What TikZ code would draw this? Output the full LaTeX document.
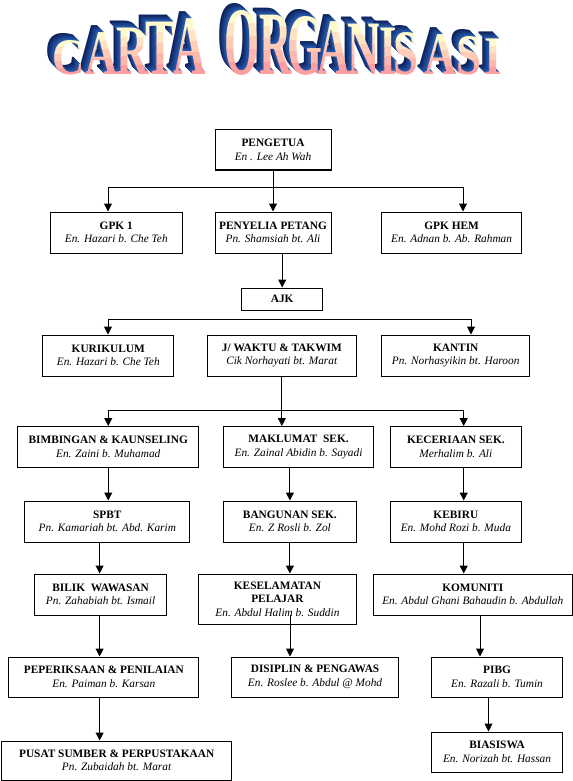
\documentclass[tikz,border=0pt]{standalone}
\usepackage{fontspec}
\setmainfont{Liberation Serif}
\usetikzlibrary{arrows.meta}
\newcommand{\pxu}{0.75pt}
\definecolor{wordnavy}{RGB}{12,32,92}
\definecolor{wordblue}{RGB}{40,92,175}
\definecolor{wordcream}{RGB}{255,250,205}
\definecolor{wordpink}{RGB}{255,160,160}
\tikzset{
  unit/.style 2 args={draw, line width=0.75pt, align=center, inner sep=0pt,
    minimum width=#1*\pxu, minimum height=#2*\pxu, font=\fontsize{8.5}{10.2}\selectfont},
  link/.style={line width=0.75pt, -{Triangle[width=6pt,length=6pt]}},
  twolink/.style={line width=0.75pt, {Triangle[width=6pt,length=6pt]}-{Triangle[width=6pt,length=6pt]}},
  letter/.style={anchor=base, inner sep=0pt, transform shape, font=\fontsize{40}{40}\selectfont\bfseries},
}

\begin{document}
\begin{tikzpicture}[x=0.75pt, y=-0.75pt]
    \useasboundingbox (0,0) rectangle (573,781);

    % title, blue extrusion first
    \foreach \ch/\cx/\ct in {C/69/35, A/102/27, R/133/22, T/160/16, A/190/13, O/242/5, R/276/9, G/305/11, A/334/16, N/364/18, I/388/22, S/406/27, A/441/29, S/469/31, I/493/33}{
      \pgfmathsetmacro\ys{(75-\ct-6)/35.3}
      \foreach \d in {7,...,1}{
        \pgfmathtruncatemacro\shade{(7-\d)*16}
        \begin{scope}[shift={(\cx-\d,75-\d)}, xscale=0.84, yscale=\ys]
          \node[letter, text=wordblue!\shade!wordnavy] at (0,0) {\ch};
        \end{scope}
      }
    }
    % title faces, cream to pink
    \foreach \ch/\cx/\ct in {C/69/35, A/102/27, R/133/22, T/160/16, A/190/13, O/242/5, R/276/9, G/305/11, A/334/16, N/364/18, I/388/22, S/406/27, A/441/29, S/469/31, I/493/33}{
      \pgfmathsetmacro\ys{(75-\ct-6)/35.3}
      \pgfmathsetmacro\band{(75-\ct-6)/5}
      \foreach \k in {0,...,4}{
        \pgfmathtruncatemacro\mix{\k*25}
        \pgfmathsetmacro\ya{\k==0 ? 0 : \ct+6+\k*\band}
        \pgfmathsetmacro\yb{\k==4 ? 90 : \ct+6+(\k+1)*\band}
        \begin{scope}
          \clip (\cx-35,\ya) rectangle (\cx+35,\yb);
          \begin{scope}[shift={(\cx,75)}, xscale=0.84, yscale=\ys]
            \node[letter, text=wordpink!\mix!wordcream] at (0,0) {\ch};
          \end{scope}
        \end{scope}
      }
    }

    % boxes
    \node[unit={116}{40}] (pengetua) at (273,150) {\textbf{PENGETUA}\\\textit{En . Lee Ah Wah}};
    \node[unit={131.5}{41}] (gpk1) at (116.25,232.5) {\textbf{GPK 1}\\\textit{En. Hazari b. Che Teh}};
    \node[unit={116}{41}] (penyelia) at (273,232.5) {\textbf{PENYELIA PETANG}\\\textit{Pn. Shamsiah bt. Ali}};
    \node[unit={140}{41}] (gpkhem) at (451.6,232.5) {\textbf{GPK HEM}\\\textit{En. Adnan b. Ab. Rahman}};
    \node[unit={81}{22}] (ajk) at (282.2,299) {\textbf{AJK}};
    \node[unit={130.7}{41}] (kurikulum) at (108.25,355.5) {\textbf{KURIKULUM}\\\textit{En. Hazari b. Che Teh}};
    \node[unit={148.3}{41}] (jwaktu) at (281.85,355.5) {\textbf{J/ WAKTU \& TAKWIM}\\\textit{Cik Norhayati bt. Marat}};
    \node[unit={148}{41}] (kantin) at (455.7,355.5) {\textbf{KANTIN}\\\textit{Pn. Norhasyikin bt. Haroon}};
    \node[unit={181.3}{40.5}] (bimbingan) at (108.25,446.75) {\textbf{BIMBINGAN \& KAUNSELING}\\\textit{En. Zaini b. Muhamad}};
    \node[unit={149.5}{40.5}] (maklumat) at (298.55,446.75) {\textbf{MAKLUMAT\ \ SEK.}\\\textit{En. Zainal Abidin b. Sayadi}};
    \node[unit={131.5}{40.5}] (keceriaan) at (455.85,446.75) {\textbf{KECERIAAN SEK.}\\\textit{Merhalim b. Ali}};
    \node[unit={164.8}{41}] (spbt) at (107.3,521.5) {\textbf{SPBT}\\\textit{Pn. Kamariah bt. Abd. Karim}};
    \node[unit={132.2}{41}] (bangunan) at (289.9,521.5) {\textbf{BANGUNAN SEK.}\\\textit{En. Z Rosli b. Zol}};
    \node[unit={131.5}{41}] (kebiru) at (455.85,521.5) {\textbf{KEBIRU}\\\textit{En. Mohd Rozi b. Muda}};
    \node[unit={132.3}{41}] (bilik) at (100.55,594.5) {\textbf{BILIK\ \ WAWASAN}\\\textit{Pn. Zahabiah bt. Ismail}};
    \node[unit={157.1}{50}] (keselamatan) at (277.45,599) {\textbf{KESELAMATAN}\\\textbf{PELAJAR}\\\textit{En. Abdul Halim b. Suddin}};
    \node[unit={199}{41}] (komuniti) at (472.8,594.5) {\textbf{KOMUNITI}\\\textit{En. Abdul Ghani Bahaudin b. Abdullah}};
    \node[unit={190.1}{40}] (peperiksaan) at (103.85,677) {\textbf{PEPERIKSAAN \& PENILAIAN}\\\textit{En. Paiman b. Karsan}};
    \node[unit={166.3}{40}] (disiplin) at (315.05,677) {\textbf{DISIPLIN \& PENGAWAS}\\\textit{En. Roslee b. Abdul @ Mohd}};
    \node[unit={131.1}{40}] (pibg) at (497.05,677) {\textbf{PIBG}\\\textit{En. Razali b. Tumin}};
    \node[unit={229.7}{39}] (pusat) at (116.65,760.5) {\textbf{PUSAT SUMBER \& PERPUSTAKAAN}\\\textit{Pn. Zubaidah bt. Marat}};
    \node[unit={131.1}{40}] (biasiswa) at (497.05,752) {\textbf{BIASISWA}\\\textit{En. Norizah bt. Hassan}};

    % bus ends and columns
    \coordinate (bus1w) at (108,187.5);
    \coordinate (bus1e) at (463,187.5);
    \coordinate (bus2w) at (108,319);
    \coordinate (bus2e) at (471,319);
    \coordinate (bus3e) at (463.7,410.5);
    \coordinate (colA) at (99.6,0);
    \coordinate (colB) at (290,615);
    \coordinate (colC) at (480,0);
    \coordinate (colD) at (488.5,0);

    % connectors
    \draw[line width=0.75pt] (pengetua.south) -- (pengetua.south |- bus1w);
    \draw[twolink] (bus1w |- gpk1.north) -- (bus1w) -- (bus1e) -- (bus1e |- gpkhem.north);
    \draw[link] (pengetua.south |- bus1w) -- (penyelia.north);
    \draw[link] (ajk.north |- penyelia.south) -- (ajk.north);
    \draw[twolink] (bus2w |- kurikulum.north) -- (bus2w) -- (bus2e) -- (bus2e |- kantin.north);
    \draw[link] (jwaktu.south) -- (jwaktu.south |- maklumat.north);
    \draw[twolink] (bimbingan.north) |- (bus3e) -- (bus3e |- keceriaan.north);
    \draw[link] (bimbingan.south) -- (bimbingan.south |- spbt.north);
    \draw[link] (colA |- spbt.south) -- (colA |- bilik.north);
    \draw[link] (colA |- bilik.south) -- (colA |- peperiksaan.north);
    \draw[link] (colA |- peperiksaan.south) -- (colA |- pusat.north);
    \draw[link] (bangunan.north |- maklumat.south) -- (bangunan.north);
    \draw[link] (bangunan.south) -- (bangunan.south |- keselamatan.north);
    \draw[link] (colB) -- (colB |- disiplin.north);
    \draw[link] (bus3e |- keceriaan.south) -- (bus3e |- kebiru.north);
    \draw[link] (bus3e |- kebiru.south) -- (bus3e |- komuniti.north);
    \draw[link] (colC |- komuniti.south) -- (colC |- pibg.north);
    \draw[link] (colD |- pibg.south) -- (colD |- biasiswa.north);
\end{tikzpicture}
\end{document}
